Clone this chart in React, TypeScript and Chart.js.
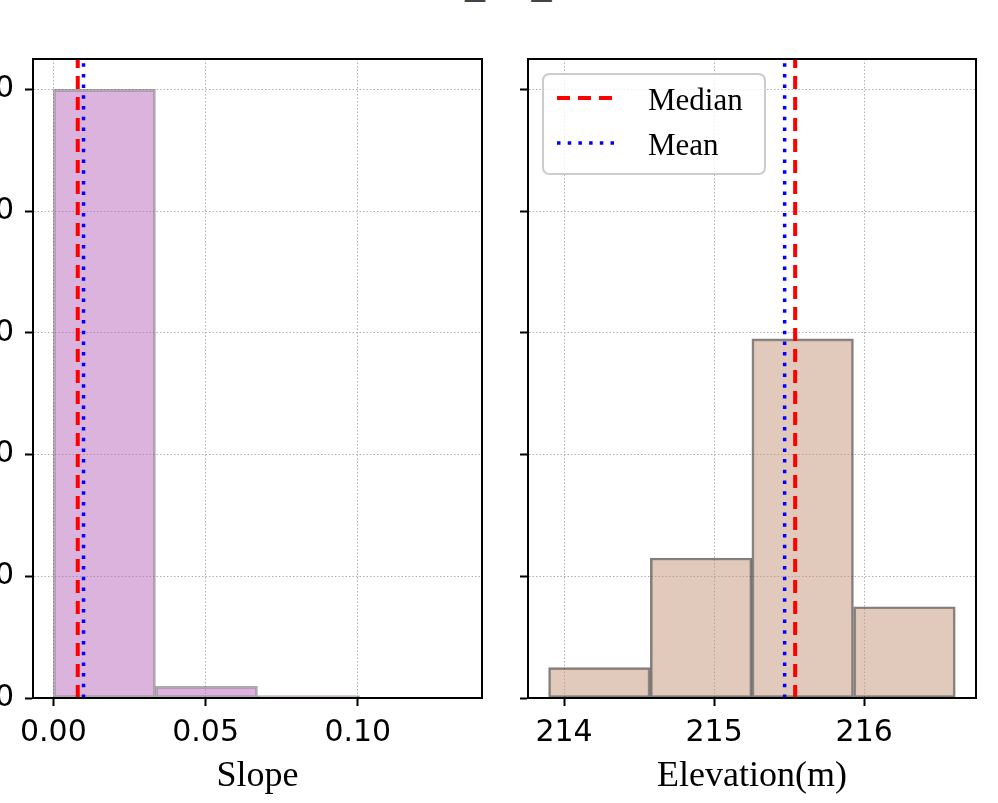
import React, { useEffect, useRef } from 'react';
import { Chart, registerables } from 'chart.js';

Chart.register(...registerables);

// ---- data ----
const titleText = 'Reach_B2_Metrics';

const slopeBinEdges = [0, 0.03352, 0.06705, 0.10057, 0.1341];
const slopeCounts = [1000, 19, 4, 1];
const slopeRange = [-0.0067, 0.1408];
const slopeTicks = [0, 0.05, 0.1];
const slopeMedian = 0.008;
const slopeMean = 0.0099;

const elevBinEdges = [213.896, 214.575, 215.252, 215.928, 216.609];
const elevCounts = [50, 230, 590, 150];
const elevRange = [213.76, 216.745];
const elevTicks = [214, 215, 216];
const elevMedian = 215.54;
const elevMean = 215.47;

const countTicks = [0, 200, 400, 600, 800, 1000];
const countRange = [0, 1050];
const legendLabels = ['Median', 'Mean'];
const xAxisLabels = ['Slope', 'Elevation(m)'];

const RED_DASH = [13, 8];
const BLUE_DOT = [3.5, 7.2];

function drawVLine(ctx: CanvasRenderingContext2D, x: number, a: any, color: string, dash: number[], w: number) {
  ctx.save();
  ctx.strokeStyle = color;
  ctx.lineWidth = w;
  ctx.lineCap = 'butt';
  ctx.setLineDash(dash);
  ctx.beginPath();
  ctx.moveTo(x, a.bottom);
  ctx.lineTo(x, a.top);
  ctx.stroke();
  ctx.restore();
}

function makeOverlay(median: number, mean: number, withLegend: boolean) {
  return {
    id: 'overlay',
    afterDatasetsDraw(chart: any) {
      const { ctx, chartArea: a, scales } = chart;
      ctx.save();
      ctx.beginPath();
      ctx.rect(a.left, a.top, a.right - a.left, a.bottom - a.top);
      ctx.clip();
      drawVLine(ctx, scales.x.getPixelForValue(median), a, '#ff0000', RED_DASH, 4);
      drawVLine(ctx, scales.x.getPixelForValue(mean), a, '#0000ff', BLUE_DOT, 3.5);
      ctx.restore();
    },
    afterDraw(chart: any) {
      const { ctx, chartArea: a } = chart;
      ctx.save();
      ctx.strokeStyle = '#000';
      ctx.lineWidth = 2;
      ctx.strokeRect(a.left, a.top, a.right - a.left, a.bottom - a.top);
      ctx.restore();
      if (!withLegend) return;
      const bx = a.left + 15, by = a.top + 15, bw = 222, bh = 100, r = 7;
      ctx.save();
      ctx.beginPath();
      ctx.moveTo(bx + r, by);
      ctx.lineTo(bx + bw - r, by);
      ctx.quadraticCurveTo(bx + bw, by, bx + bw, by + r);
      ctx.lineTo(bx + bw, by + bh - r);
      ctx.quadraticCurveTo(bx + bw, by + bh, bx + bw - r, by + bh);
      ctx.lineTo(bx + r, by + bh);
      ctx.quadraticCurveTo(bx, by + bh, bx, by + bh - r);
      ctx.lineTo(bx, by + r);
      ctx.quadraticCurveTo(bx, by, bx + r, by);
      ctx.closePath();
      ctx.fillStyle = 'rgba(255,255,255,0.8)';
      ctx.fill();
      ctx.strokeStyle = '#cccccc';
      ctx.lineWidth = 2;
      ctx.stroke();
      const entries = [
        { label: legendLabels[0], color: '#ff0000', dash: RED_DASH, w: 4, y: by + 24 },
        { label: legendLabels[1], color: '#0000ff', dash: BLUE_DOT, w: 3.5, y: by + 69 },
      ];
      ctx.font = '31px "Liberation Serif"';
      ctx.textBaseline = 'alphabetic';
      ctx.textAlign = 'left';
      for (const e of entries) {
        ctx.save();
        ctx.strokeStyle = e.color;
        ctx.lineWidth = e.w;
        ctx.setLineDash(e.dash);
        ctx.beginPath();
        ctx.moveTo(bx + 14, e.y);
        ctx.lineTo(bx + 77, e.y);
        ctx.stroke();
        ctx.restore();
        ctx.fillStyle = '#000';
        ctx.fillText(e.label, bx + 105, e.y + 12);
      }
      ctx.restore();
    },
  };
}

function makeConfig(opts: {
  edges: number[]; counts: number[]; range: number[]; xticks: number[];
  fmt: (v: number) => string; xlabel: string; fill: string; edge: string;
  median: number; mean: number; left: boolean;
}): any {
  const centers = opts.edges.slice(0, -1).map((e, i) => (e + opts.edges[i + 1]) / 2);
  const tickFont = { family: "'DejaVu Sans'", size: 30, lineHeight: 1.2 };
  const grid = {
    color: '#b0b0b0', lineWidth: 1, tickColor: '#000', tickLength: 8, tickWidth: 2,
    offset: false, drawTicks: true,
  };
  const border = { color: '#000', width: 2, dash: [1.5, 2] };
  return {
    type: 'bar',
    data: {
      datasets: [{
        data: centers.map((c, i) => ({ x: c, y: opts.counts[i] })),
        backgroundColor: opts.fill,
        borderColor: opts.edge,
        borderWidth: 2,
        borderSkipped: false,
        barPercentage: 1,
        categoryPercentage: 1,
      }],
    },
    options: {
      responsive: false,
      animation: false,
      events: [],
      layout: { padding: { top: 59, right: opts.left ? 18 : 22, bottom: 0, left: 0 } },
      plugins: { legend: { display: false }, tooltip: { enabled: false }, title: { display: false } },
      scales: {
        x: {
          type: 'linear', position: 'bottom', min: opts.range[0], max: opts.range[1], offset: false,
          afterBuildTicks: (s: any) => { s.ticks = opts.xticks.map((v) => ({ value: v })); },
          afterFit: (s: any) => { s.height = 105; },
          ticks: {
            font: tickFont, color: '#000', padding: 9, maxRotation: 0, autoSkip: false,
            callback: (v: any) => opts.fmt(Number(v)),
          },
          grid, border,
          title: {
            display: true, text: opts.xlabel, color: '#000',
            font: { family: "'Liberation Serif'", size: 36, lineHeight: 1.2 },
            padding: { top: 0, bottom: 5 },
          },
        },
        y: {
          type: 'linear', position: 'left', min: countRange[0], max: countRange[1],
          afterBuildTicks: (s: any) => { s.ticks = countTicks.map((v) => ({ value: v })); },
          afterFit: (s: any) => { s.width = opts.left ? 133 : 28; },
          ticks: {
            font: tickFont, color: '#000', padding: 11,
            callback: (v: any) => (opts.left ? String(v) : ''),
          },
          grid, border,
        },
      },
    },
    plugins: [makeOverlay(opts.median, opts.mean, !opts.left)],
  };
}

export default function App() {
  const leftRef = useRef<HTMLCanvasElement>(null);
  const rightRef = useRef<HTMLCanvasElement>(null);

  useEffect(() => {
    const c1 = new Chart(leftRef.current as HTMLCanvasElement, makeConfig({
      edges: slopeBinEdges, counts: slopeCounts, range: slopeRange, xticks: slopeTicks,
      fmt: (v) => v.toFixed(2), xlabel: xAxisLabels[0],
      fill: 'rgba(186,104,186,0.5)', edge: 'rgba(90,90,90,0.5)',
      median: slopeMedian, mean: slopeMean, left: true,
    }));
    const c2 = new Chart(rightRef.current as HTMLCanvasElement, makeConfig({
      edges: elevBinEdges, counts: elevCounts, range: elevRange, xticks: elevTicks,
      fmt: (v) => String(v), xlabel: xAxisLabels[1],
      fill: 'rgba(195,147,122,0.5)', edge: 'rgba(0,0,0,0.5)',
      median: elevMedian, mean: elevMean, left: false,
    }));
    return () => { c1.destroy(); c2.destroy(); };
  }, []);

  return (
    <div style={{ position: 'fixed', left: 0, top: 0, width: 998, height: 803, overflow: 'hidden', background: '#fff' }}>
      <div style={{
        position: 'absolute', left: 365, top: -36, fontFamily: '"Liberation Serif"', fontSize: 40,
        lineHeight: '40px', whiteSpace: 'nowrap', color: '#444',
      }}>{titleText}</div>
      <canvas ref={leftRef} width={600} height={803} style={{ position: 'absolute', left: -100, top: 0 }} />
      <canvas ref={rightRef} width={498} height={803} style={{ position: 'absolute', left: 500, top: 0 }} />
    </div>
  );
}
